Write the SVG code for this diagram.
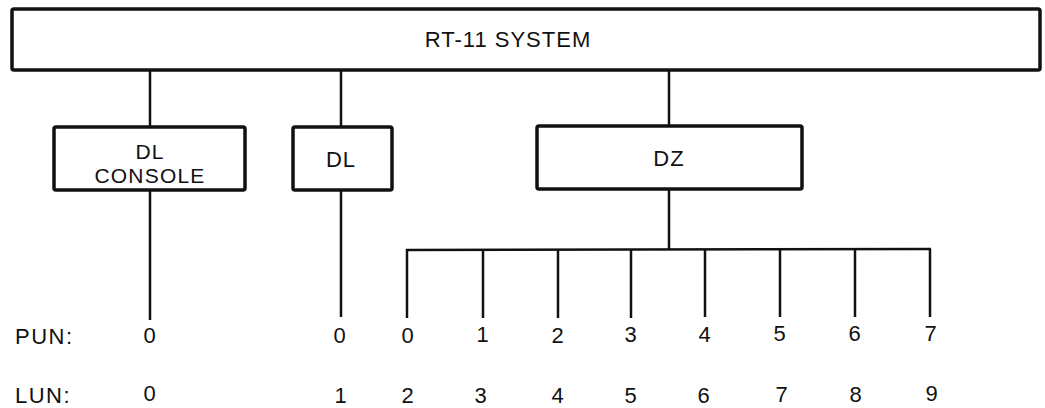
<svg xmlns="http://www.w3.org/2000/svg" width="1045" height="408" viewBox="0 0 1045 408">
<style>
.box{fill:#fff;stroke:#111;stroke-width:3.5}
.ln{stroke:#111;stroke-width:2.5;fill:none}
text{font-family:"Liberation Sans",Arial,sans-serif;font-size:22px;fill:#111;text-anchor:middle;letter-spacing:1px}
.lbl{text-anchor:start;letter-spacing:1.5px}
.sm{font-size:21px;letter-spacing:1.2px}
</style>
<rect width="1045" height="408" fill="#fff"/>
<g id="connectors">
<line class="ln" x1="150" y1="70" x2="150" y2="127"/>
<line class="ln" x1="341" y1="70" x2="341" y2="127"/>
<line class="ln" x1="669" y1="70" x2="669" y2="126"/>
<line class="ln" x1="150" y1="190" x2="150" y2="320"/>
<line class="ln" x1="341" y1="190" x2="341" y2="317"/>
<line class="ln" x1="669" y1="189" x2="669" y2="249"/>
<line class="ln" x1="406" y1="250" x2="931" y2="249"/>
<line class="ln" x1="407" y1="249" x2="407" y2="318"/>
<line class="ln" x1="483" y1="249" x2="483" y2="318"/>
<line class="ln" x1="558" y1="249" x2="558" y2="318"/>
<line class="ln" x1="631" y1="249" x2="631" y2="318"/>
<line class="ln" x1="705" y1="249" x2="705" y2="317"/>
<line class="ln" x1="780" y1="249" x2="780" y2="317"/>
<line class="ln" x1="855" y1="249" x2="855" y2="317"/>
<line class="ln" x1="930" y1="249" x2="930" y2="317"/>
</g>
<g id="rt11">
<rect class="box" x="12" y="9" width="1028" height="61" rx="2"/>
<text x="508" y="47">RT-11 SYSTEM</text>
</g>
<g id="dl-console">
<rect class="box" x="54" y="127" width="191" height="63" rx="2"/>
<text class="sm" x="150" y="159">DL</text>
<text class="sm" x="150" y="183">CONSOLE</text>
</g>
<g id="dl">
<rect class="box" x="293" y="127" width="99" height="63" rx="2"/>
<text x="341" y="167">DL</text>
</g>
<g id="dz">
<rect class="box" x="537" y="126" width="265" height="63" rx="2"/>
<text x="669" y="166">DZ</text>
</g>
<g id="pun">
<text class="lbl" x="15" y="344">PUN:</text>
<text x="150" y="343">0</text>
<text x="340" y="343">0</text>
<text x="408" y="343">0</text>
<text x="483" y="342">1</text>
<text x="558" y="343">2</text>
<text x="631" y="342">3</text>
<text x="705" y="342">4</text>
<text x="780" y="341">5</text>
<text x="855" y="341">6</text>
<text x="931" y="341">7</text>
</g>
<g id="lun">
<text class="lbl" x="15" y="403">LUN:</text>
<text x="150" y="401">0</text>
<text x="341" y="403">1</text>
<text x="408" y="403">2</text>
<text x="481" y="403">3</text>
<text x="558" y="403">4</text>
<text x="631" y="403">5</text>
<text x="704" y="403">6</text>
<text x="782" y="402">7</text>
<text x="856" y="402">8</text>
<text x="932" y="401">9</text>
</g>
</svg>
